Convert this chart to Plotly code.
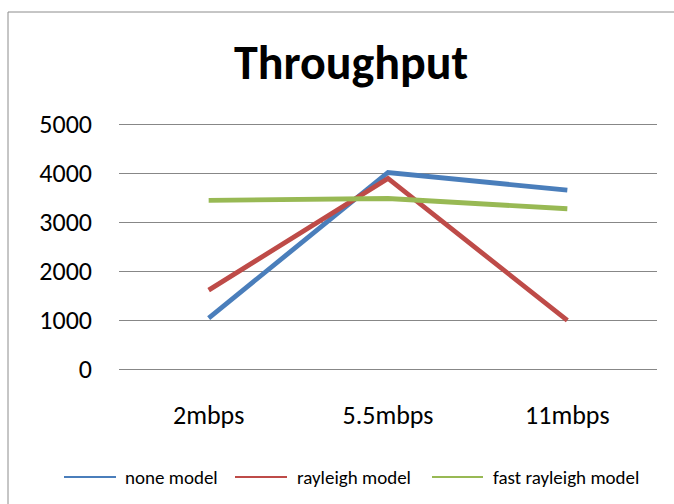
import plotly.graph_objects as go

# Throughput per data rate for each fading model
categories = ["2mbps", "5.5mbps", "11mbps"]
none_model = [1040, 4010, 3650]
rayleigh_model = [1610, 3890, 990]
fast_rayleigh_model = [3440, 3480, 3270]

series_names = ["none model", "rayleigh model", "fast rayleigh model"]
series_colors = ["#4A7EBB", "#BE4B48", "#98B954"]
series_values = [none_model, rayleigh_model, fast_rayleigh_model]

W, H = 674, 504
ML, MR, MT, MB = 119, 17, 119, 135
PW, PH = W - ML - MR, H - MT - MB
Y_MAX = 5102  # headroom above the 5000 gridline


def px_x(x):
    return (x - ML) / PW


def px_y(y):
    return (H - MB - y) / PH


FONT = "Carlito, Lato, sans-serif"
GRID = "#878787"

fig = go.Figure()
for name, color, vals in zip(series_names, series_colors, series_values):
    fig.add_trace(go.Scatter(
        x=categories, y=vals, name=name, mode="lines",
        line=dict(color=color, width=4.8),
        showlegend=False,
    ))

shapes = [
    # outer chart frame
    dict(type="rect", xref="paper", yref="paper",
         x0=px_x(8), x1=px_x(W + 10), y0=px_y(H + 10), y1=px_y(12),
         line=dict(color="#8C8C8C", width=1), fillcolor="rgba(0,0,0,0)",
         layer="below"),
]
annotations = []

# legend row along the bottom
legend_items = [(64, 116, 123), (235, 287, 295), (432, 483, 491)]
ly = 477
for (x0, x1, tx), name, color in zip(legend_items, series_names, series_colors):
    shapes.append(dict(type="line", xref="paper", yref="paper",
                       x0=px_x(x0), x1=px_x(x1), y0=px_y(ly), y1=px_y(ly),
                       line=dict(color=color, width=2)))
    annotations.append(dict(xref="paper", yref="paper", x=px_x(tx), y=px_y(ly),
                            text=name, showarrow=False, xanchor="left",
                            yanchor="middle",
                            font=dict(family=FONT, size=19, color="#000000")))

fig.update_layout(
    width=W, height=H,
    margin=dict(l=ML, r=MR, t=MT, b=MB, pad=0),
    paper_bgcolor="white", plot_bgcolor="white",
    title=dict(text="<b>Throughput</b>", x=351 / W, xanchor="center",
               xref="container", yref="container", y=1 - 62 / H,
               yanchor="middle",
               font=dict(family=FONT, size=48, color="#000000")),
    shapes=shapes,
    annotations=annotations,
    xaxis=dict(range=[-0.5, 2.5], showgrid=False, zeroline=False,
               showline=False, ticks="", ticklabelstandoff=28,
               tickfont=dict(family=FONT, size=26, color="#000000")),
    yaxis=dict(range=[0, Y_MAX], tickvals=[0, 1000, 2000, 3000, 4000, 5000],
               showgrid=True,
               gridcolor=GRID, gridwidth=1.3, zeroline=True,
               zerolinecolor=GRID, zerolinewidth=1.3, showline=False,
               ticks="", ticklabelstandoff=26,
               tickfont=dict(family=FONT, size=26, color="#000000")),
)

fig.write_html("out.html")
